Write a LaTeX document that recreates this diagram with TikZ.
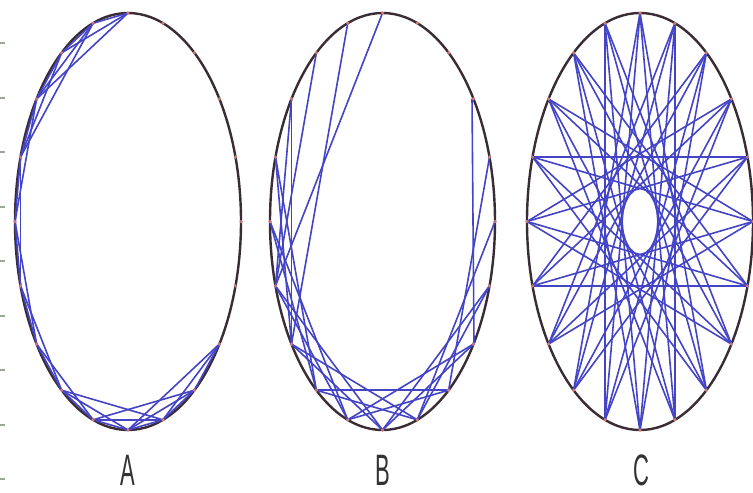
\documentclass[tikz,border=0pt]{standalone}
\usepackage{fontspec}
\usepackage{graphicx}
\setmainfont{Liberation Sans}
\usetikzlibrary{backgrounds}
\definecolor{ringcol}{HTML}{3A2C34}
\definecolor{edgecol}{HTML}{4444C6}
\definecolor{dotcol}{HTML}{D07878}
\definecolor{labcol}{HTML}{333333}
\definecolor{tickcol}{HTML}{9AA89A}
\tikzset{
  ring/.style={draw=ringcol, line width=2.4pt},
  edge/.style={draw=edgecol, line width=1.6pt},
  dot/.style={circle, fill=dotcol, inner sep=0pt, minimum size=3.5pt},
  lab/.style={font=\fontsize{44}{44}\selectfont, text=labcol, inner sep=0pt},
  tick/.style={draw=tickcol, line width=2pt}
}
\begin{document}
\begin{tikzpicture}[x=1pt,y=-1pt]
\useasboundingbox (0,0) rectangle (753,493);
% left axis ticks
\foreach \ty in {43,97.5,152,206.5,261,315.5,370,424.5,479}
  \draw[tick] (0,\ty) -- (5,\ty);
% nodes on the three rings
\foreach \nm/\cx/\rx in {A/128/113, B/382.5/112.5, C/640/113}{
  \foreach \i in {0,...,19}{
    \node[dot] (\nm\i) at ({\cx+\rx*cos(90+18*\i)},{221.5-208.5*sin(90+18*\i)}) {};
  }
}
\begin{scope}[on background layer]
  \fill[white] (0,0) rectangle (753,493);
  \foreach \cx/\rx in {128/113, 382.5/112.5, 640/113}
    \draw[ring] (\cx,221.5) ellipse [x radius=\rx, y radius=208.5];
  % A: ring lattice, left and bottom part
  \foreach \i in {0,...,11}{
    \pgfmathtruncatemacro\j{\i+1}
    \pgfmathtruncatemacro\k{\i+2}
    \draw[edge] (A\i.center) -- (A\j.center);
    \draw[edge] (A\i.center) -- (A\k.center);
  }
  \foreach \i/\j in {12/13,0/3,1/4,8/11,9/12,10/13}
    \draw[edge] (A\i.center) -- (A\j.center);
  % B: small-world
  \foreach \i/\j in {0/6,1/7,2/6,3/7,3/6,4/7,
      4/8,5/9,6/10,7/11,8/12,9/13,10/14,11/15,12/16,
      5/8,6/9,7/10,8/11,9/12,10/13,11/14}
    \draw[edge] (B\i.center) -- (B\j.center);
  \draw[edge] ([xshift=-1.5pt]B17.center) -- ([xshift=0.5pt]B13.center);
  % C: long-range star pattern
  \foreach \i in {0,...,19}{
    \pgfmathtruncatemacro\j{mod(\i+8,20)}
    \pgfmathtruncatemacro\k{mod(\i+9,20)}
    \draw[edge] (C\i.center) -- (C\j.center);
    \draw[edge] (C\i.center) -- (C\k.center);
  }
\end{scope}
\node[lab] (labA) at (128,470) {\scalebox{0.5}[1]{A}};
\node[lab] (labB) at (383,470) {\scalebox{0.5}[1]{B}};
\node[lab] (labC) at (641,470) {\scalebox{0.5}[1]{C}};
\end{tikzpicture}
\end{document}
